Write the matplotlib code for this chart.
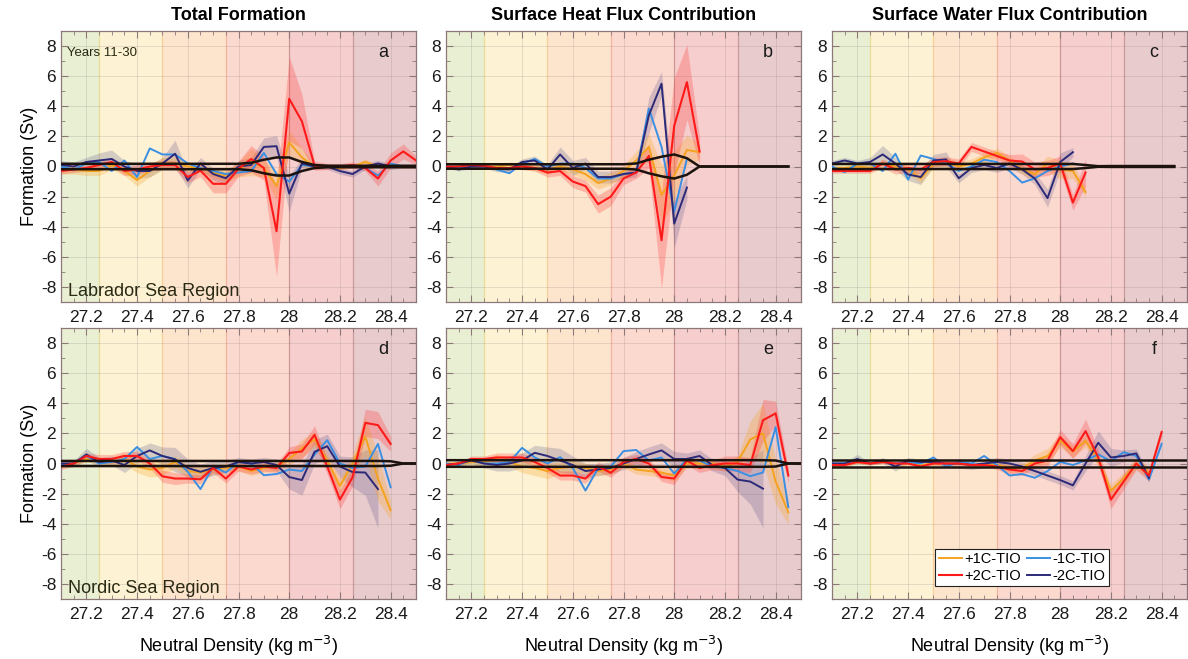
import numpy as np
import matplotlib
matplotlib.use("Agg")
import matplotlib.pyplot as plt
from matplotlib.ticker import MultipleLocator, FuncFormatter

plt.rcParams['font.family'] = ['Liberation Sans', 'DejaVu Sans']

nan = np.nan
density = np.round(np.arange(27.10, 28.501, 0.05), 2)

titles = ["Total Formation", "Surface Heat Flux Contribution", "Surface Water Flux Contribution"]
panel_letters = ["a", "b", "c", "d", "e", "f"]
region_names = ["Labrador Sea Region", "Nordic Sea Region"]
series_names = ["+1C-TIO", "-1C-TIO", "+2C-TIO", "-2C-TIO"]

# ---------------- Panel a ----------------
a_p1 = [-0.2,-0.2,-0.3,-0.3,0.1,-0.3,-0.9,-0.3,0.2,0.2,0.0,-0.1,-0.4,-0.6,-0.2,0.3,-0.1,-1.3,1.6,0.6,0.0,0.0,-0.1,0.0,0.3,0.0,0.0,0.0,0.0]
a_p1_s = [0.3,0.3,0.3,0.3,0.3,0.3,0.4,0.4,0.4,0.4,0.3,0.3,0.3,0.4,0.5,0.9,0.6,0.9,0.8,0.6,0.2,0.1,0.1,0.1,0.2,0.1,0.1,0.1,0.1]
a_p2 = [-0.3,-0.2,-0.1,0.1,0.3,-0.3,-0.2,0.0,0.1,0.1,-0.7,-0.27,-1.15,-1.15,-0.15,0.5,-0.1,-4.3,4.5,3.0,0.05,0.0,0.0,0.1,-0.1,-0.8,0.4,1.0,0.4]
a_p2_s = [0.2,0.2,0.2,0.2,0.3,0.3,0.3,0.3,0.3,0.3,0.4,0.4,0.6,0.6,0.5,0.9,0.8,3.0,2.8,1.8,0.3,0.2,0.2,0.2,0.2,0.5,0.5,0.5,0.3]
a_m1 = [0.0,-0.2,0.2,0.3,-0.3,0.4,-0.7,1.2,0.8,0.8,0.2,-0.1,-0.3,-0.5,-0.4,-0.3,0.9,-0.5,-1.0,0.1,0.0,0.0,0.0,0.0,-0.1,-0.6,0.2,0.0,0.0]
a_m2 = [0.1,0.0,0.3,0.4,0.5,0.0,-0.3,-0.3,0.2,0.85,-0.93,0.2,-0.5,-0.78,0.0,0.1,1.3,1.35,-1.8,0.2,0.0,0.0,-0.3,-0.5,0.0,0.2,0.0,0.0,0.0]
a_m2_s = [0.3,0.3,0.3,0.5,0.6,0.4,0.5,0.4,0.4,0.9,0.5,0.4,0.4,0.4,0.4,0.5,0.6,0.7,1.2,0.3,0.2,0.2,0.2,0.2,0.2,0.2,0.2,0.1,0.1]
a_env = [0.18]*15 + [0.25,0.45,0.6,0.6,0.3,0.1,0.05,0.05,0.05,0.05,0.05,0.05,0.05,0.05]

# ---------------- Panel b ----------------
b_p1 = [-0.1,0.0,0.0,0.0,0.0,0.1,0.0,-0.1,-0.2,0.0,-0.2,-0.5,-1.1,-0.8,-0.3,0.4,1.3,-1.9,-0.6,1.1,0.95,nan,nan,nan,nan,nan,nan,nan,nan]
b_p1_s = [0.1,0.1,0.1,0.1,0.1,0.2,0.2,0.2,0.3,0.3,0.3,0.4,0.4,0.4,0.4,0.6,0.9,2.0,1.6,1.0,0.5,nan,nan,nan,nan,nan,nan,nan,nan]
b_p2 = [0.0,0.0,0.1,0.05,-0.1,-0.1,0.0,-0.1,-0.4,-0.3,-1.0,-1.3,-2.5,-2.0,-0.8,-0.4,0.7,-4.9,2.7,5.6,1.0,nan,nan,nan,nan,nan,nan,nan,nan]
b_p2_s = [0.1,0.1,0.1,0.1,0.1,0.1,0.2,0.2,0.3,0.3,0.4,0.4,0.6,0.6,0.4,0.4,0.8,3.2,3.2,2.5,0.9,nan,nan,nan,nan,nan,nan,nan,nan]
b_m1 = [0.0,-0.1,0.0,0.0,-0.2,-0.45,0.2,0.5,0.0,0.2,0.2,-0.1,-0.8,-0.8,-0.5,-0.4,3.85,1.3,-3.0,0.5,nan,nan,nan,nan,nan,nan,nan,nan,nan]
b_m2 = [0.0,-0.2,0.0,0.0,-0.15,-0.2,0.3,0.4,-0.2,0.8,-0.1,0.2,-0.7,-0.7,-0.5,-0.4,3.4,5.5,-3.8,-1.4,nan,nan,nan,nan,nan,nan,nan,nan,nan]
b_m2_s = [0.1,0.1,0.1,0.1,0.2,0.2,0.2,0.3,0.3,0.5,0.5,0.4,0.4,0.4,0.3,0.3,1.2,0.8,1.6,0.8,nan,nan,nan,nan,nan,nan,nan,nan,nan]
b_env = [0.15]*15 + [0.2,0.45,0.65,0.8,0.55,0.0,0.0,0.0,0.0,0.0,0.0,0.0,0.0,nan]

# ---------------- Panel c ----------------
c_p1 = [-0.1,-0.1,0.0,-0.1,0.2,0.0,-0.2,-0.8,0.2,0.3,0.0,0.2,0.6,0.9,0.4,-0.2,-0.5,0.2,-0.2,-0.3,-1.7,nan,nan,nan,nan,nan,nan,nan,nan]
c_p1_s = [0.2,0.2,0.2,0.2,0.2,0.2,0.3,0.3,0.3,0.3,0.3,0.3,0.3,0.3,0.3,0.3,0.4,0.5,0.6,0.5,0.3,nan,nan,nan,nan,nan,nan,nan,nan]
c_p2 = [-0.3,-0.3,-0.3,-0.3,0.2,-0.2,-0.1,-0.2,0.3,0.35,0.2,1.3,1.0,0.7,0.4,0.33,-0.2,-0.1,0.2,-2.4,-0.4,nan,nan,nan,nan,nan,nan,nan,nan]
c_p2_s = [0.15,0.15,0.15,0.15,0.3,0.3,0.3,0.3,0.3,0.3,0.3,0.3,0.3,0.3,0.4,0.5,0.5,0.5,0.5,0.5,0.9,nan,nan,nan,nan,nan,nan,nan,nan]
c_m1 = [0.0,-0.38,0.2,0.2,-0.3,0.85,-0.87,0.73,0.5,0.2,-0.3,0.0,0.45,0.3,-0.3,-1.07,-0.78,-0.3,0.0,0.2,nan,nan,nan,nan,nan,nan,nan,nan,nan]
c_m2 = [0.2,0.4,0.2,0.3,0.8,0.2,-0.53,-0.7,0.4,0.47,-0.78,-0.1,0.1,-0.1,0.2,-0.2,-0.8,-2.1,0.3,0.95,nan,nan,nan,nan,nan,nan,nan,nan,nan]
c_m2_s = [0.2,0.2,0.2,0.3,0.6,0.4,0.4,0.5,0.4,0.5,0.3,0.3,0.3,0.3,0.3,0.3,0.4,0.6,0.6,0.3,nan,nan,nan,nan,nan,nan,nan,nan,nan]
c_env = [0.17]*20 + [0.1,0.02,0.03,0.03,0.03,0.03,0.03,0.03,nan]

# ---------------- Panel d ----------------
d_p1 = [-0.1,0.0,0.3,0.2,0.1,0.3,-0.2,-0.4,-0.3,0.1,-0.5,-0.6,-0.4,-0.3,-0.2,-0.5,-0.3,-0.2,0.3,1.0,1.6,0.2,-1.5,0.0,1.8,-1.0,-3.1,nan,nan]
d_p1_s = [0.2,0.2,0.2,0.2,0.3,0.4,0.4,0.5,0.5,0.4,0.4,0.4,0.3,0.3,0.3,0.3,0.3,0.3,0.4,0.6,0.5,0.5,0.5,0.6,1.3,1.5,0.6,nan,nan]
d_p2 = [-0.2,0.0,0.5,0.3,0.3,0.5,0.5,0.0,-0.85,-1.0,-1.0,-1.05,-0.3,-1.0,-0.2,-0.4,-0.2,-0.3,0.7,0.8,1.9,-0.2,-2.4,-0.9,2.7,2.55,1.3,nan,nan]
d_p2_s = [0.2,0.2,0.2,0.3,0.3,0.3,0.3,0.3,0.4,0.4,0.3,0.3,0.3,0.3,0.3,0.3,0.3,0.3,0.4,0.5,0.6,0.5,0.6,0.6,0.9,0.9,0.5,nan,nan]
d_m1 = [-0.1,0.0,0.5,0.0,0.1,0.3,1.1,0.3,0.5,0.3,-0.55,-1.7,-0.2,-0.6,0.1,0.0,-0.78,-0.7,-0.4,-0.5,0.6,1.55,0.0,-0.3,-0.2,1.3,-1.58,nan,nan]
d_m2 = [0.0,0.0,0.6,0.1,0.2,-0.1,0.5,0.87,0.5,0.27,-0.3,-0.55,-0.3,-0.2,0.1,0.0,0.1,-0.1,-0.9,-1.1,0.78,1.15,-0.2,-0.57,-0.6,-1.7,nan,nan,nan]
d_m2_s = [0.2,0.2,0.4,0.3,0.3,0.5,0.5,0.5,0.6,0.8,0.6,0.5,0.5,0.4,0.3,0.3,0.3,0.4,0.8,1.0,0.8,0.8,0.7,1.0,1.5,2.6,nan,nan,nan]
d_env = [0.17]*26 + [0.15,0.0,0.0]

# ---------------- Panel e ----------------
e_p1 = [0.0,0.0,0.1,0.1,0.3,0.1,-0.2,-0.3,-0.5,-0.3,-0.2,-0.3,-0.5,-0.4,0.0,-0.4,-0.5,-0.6,-0.8,0.0,0.0,0.0,-0.2,0.1,1.6,2.0,-1.2,-3.24,nan]
e_p1_s = [0.1,0.1,0.2,0.2,0.3,0.3,0.4,0.5,0.5,0.4,0.4,0.3,0.3,0.3,0.3,0.3,0.3,0.3,0.4,0.3,0.3,0.3,0.3,0.4,1.2,2.0,1.5,0.8,nan]
e_p2 = [-0.1,0.0,0.3,0.3,0.4,0.4,0.4,0.1,-0.3,-0.8,-0.8,-1.0,-0.2,-0.62,0.1,0.3,0.0,-0.9,-1.0,0.2,-0.3,-0.1,0.0,0.0,-0.1,2.87,3.33,-0.8,nan]
e_p2_s = [0.1,0.1,0.2,0.2,0.3,0.3,0.3,0.3,0.3,0.3,0.3,0.3,0.3,0.3,0.3,0.3,0.3,0.3,0.4,0.3,0.3,0.3,0.5,0.5,0.5,1.4,0.8,0.5,nan]
e_m1 = [0.0,-0.1,0.3,0.0,0.0,0.1,1.04,0.4,0.0,0.42,-0.3,-1.8,-0.3,-0.2,0.82,0.9,0.2,0.4,-0.67,0.3,0.2,-0.2,-0.3,-0.5,-0.84,-0.6,2.42,-2.9,nan]
e_m2 = [-0.1,0.0,0.2,0.0,-0.1,0.0,0.2,0.71,0.5,0.2,-0.1,-0.5,-0.4,-0.3,0.0,0.3,0.6,0.87,0.3,0.3,0.5,-0.1,-0.3,-1.07,-1.2,-1.67,nan,nan,nan]
e_m2_s = [0.1,0.2,0.2,0.3,0.4,0.5,0.5,0.5,0.6,0.8,0.6,0.5,0.4,0.4,0.4,0.5,0.5,0.5,0.5,0.4,0.4,0.4,0.5,0.8,1.5,2.6,nan,nan,nan]
e_env = [0.22]*26 + [0.2,0.0,0.0]

# ---------------- Panel f ----------------
f_p1 = [-0.1,-0.1,0.1,0.0,0.1,0.0,0.0,-0.1,0.0,0.0,0.0,-0.1,-0.1,-0.1,-0.3,-0.3,0.2,0.5,1.5,0.8,1.5,0.2,-1.8,-1.0,0.0,-0.6,nan,nan,nan]
f_p1_s = [0.1,0.1,0.1,0.1,0.1,0.1,0.1,0.1,0.1,0.1,0.1,0.1,0.1,0.2,0.3,0.3,0.4,0.5,0.4,0.4,0.4,0.4,0.4,0.4,0.4,0.4,nan,nan,nan]
f_p2 = [-0.1,-0.1,0.1,0.0,0.1,0.0,0.0,-0.2,0.0,0.0,0.0,-0.1,-0.1,-0.2,-0.4,-0.5,0.0,0.2,1.75,0.82,2.15,0.4,-2.4,-1.2,0.0,-0.8,2.09,nan,nan]
f_p2_s = [0.1,0.1,0.1,0.1,0.1,0.1,0.1,0.1,0.1,0.1,0.1,0.1,0.1,0.2,0.3,0.3,0.3,0.4,0.5,0.5,0.8,0.5,0.6,0.5,0.4,0.4,0.3,nan,nan]
f_m1 = [0.0,0.0,0.2,0.0,0.1,0.0,0.1,0.0,0.4,-0.2,0.1,0.0,0.5,-0.1,-0.8,-0.7,-0.95,-0.5,0.1,-0.1,0.2,0.6,0.15,0.75,0.5,-1.07,1.3,nan,nan]
f_m2 = [0.0,0.0,0.3,0.0,0.2,-0.2,0.2,0.1,0.1,0.0,0.0,-0.1,0.0,0.1,0.0,-0.2,-0.5,-0.8,-1.1,-1.45,0.0,1.38,0.4,0.5,0.67,-0.95,nan,nan,nan]
f_m2_s = [0.1,0.1,0.3,0.1,0.2,0.3,0.2,0.2,0.2,0.2,0.3,0.3,0.3,0.3,0.3,0.3,0.3,0.3,0.3,0.3,0.5,0.8,0.6,0.4,0.3,0.3,nan,nan,nan]
f_env = [0.2]*29

panels = [
    (a_p1, a_p1_s, a_m1, a_p2, a_p2_s, a_m2, a_m2_s, a_env),
    (b_p1, b_p1_s, b_m1, b_p2, b_p2_s, b_m2, b_m2_s, b_env),
    (c_p1, c_p1_s, c_m1, c_p2, c_p2_s, c_m2, c_m2_s, c_env),
    (d_p1, d_p1_s, d_m1, d_p2, d_p2_s, d_m2, d_m2_s, d_env),
    (e_p1, e_p1_s, e_m1, e_p2, e_p2_s, e_m2, e_m2_s, e_env),
    (f_p1, f_p1_s, f_m1, f_p2, f_p2_s, f_m2, f_m2_s, f_env),
]

# background density classes
band_edges = [27.10, 27.25, 27.50, 27.75, 28.00, 28.25, 28.50]
band_colors = ['#E9EFD3', '#FDF3D4', '#FDE5CD', '#FCD9CF', '#F5CECD', '#E8CBCC']
edge_colors = ['#E8DC9A', '#F6CE98', '#F3B49E', '#DA9C9A', '#C99A9C']

c_p1c, c_m1c, c_p2c, c_m2c = '#F5A21E', '#3A8FE3', '#FF1A1A', '#2C2A78'

W, H = 1188, 659
fig = plt.figure(figsize=(W/100, H/100), dpi=100)
lefts = [61, 446, 832]
tops = [31, 328]
aw, ah = 355, 271

x = density
spine_col = '#8C7878'

for k in range(6):
    r, c = divmod(k, 3)
    ax = fig.add_axes([lefts[c]/W, 1 - (tops[r] + ah)/H, aw/W, ah/H])
    p1, p1s, m1, p2, p2s, m2, m2s, env = [np.array(v, dtype=float) for v in panels[k]]

    for i in range(6):
        ax.axvspan(band_edges[i], band_edges[i+1], color=band_colors[i], lw=0, zorder=0)
    for i in range(5):
        ax.axvline(band_edges[i+1], color=edge_colors[i], lw=0.9, zorder=0.5)

    ax.grid(True, which='major', color='#9a8a8a', alpha=0.25, lw=0.7, zorder=0.6)
    ax.set_axisbelow(True)

    ax.fill_between(x, m2 - m2s, m2 + m2s, color='#4a4580', alpha=0.22, lw=0, zorder=1)
    ax.fill_between(x, p1 - p1s, p1 + p1s, color='#F8A830', alpha=0.30, lw=0, zorder=1.1)
    ax.fill_between(x, p2 - p2s, p2 + p2s, color='#FF3B3B', alpha=0.28, lw=0, zorder=1.2)

    l1, = ax.plot(x, p1, color=c_p1c, lw=1.4, zorder=3)
    l2, = ax.plot(x, m1, color=c_m1c, lw=1.4, zorder=3.1)
    l4, = ax.plot(x, m2, color=c_m2c, lw=1.4, zorder=3.2)
    l3, = ax.plot(x, p2, color=c_p2c, lw=1.5, zorder=3.3)

    ax.plot(x, env, color='#1c130e', lw=1.8, zorder=4)
    ax.plot(x, -env, color='#1c130e', lw=1.8, zorder=4)

    ax.set_xlim(27.1, 28.5)
    ax.set_ylim(-9, 9)
    ax.xaxis.set_major_locator(MultipleLocator(0.2))
    ax.xaxis.set_minor_locator(MultipleLocator(0.05))
    ax.yaxis.set_major_locator(MultipleLocator(2))
    ax.yaxis.set_minor_locator(MultipleLocator(1))
    ax.xaxis.set_major_formatter(FuncFormatter(lambda v, p: ('%g' % round(v, 2)) if 27.15 < v < 28.45 else ''))
    ax.yaxis.set_major_formatter(FuncFormatter(lambda v, p: '%g' % v if abs(v) < 8.5 else ''))
    ax.tick_params(which='both', direction='in', top=True, right=True, colors=spine_col,
                   labelcolor='#1a1a1a', labelsize=12.5)
    ax.tick_params(which='major', length=5, width=0.8)
    ax.tick_params(which='minor', length=3, width=0.6)
    ax.tick_params(axis='x', pad=6)
    for s in ax.spines.values():
        s.set_color(spine_col)
        s.set_linewidth(0.9)

    ax.text(28.37, 7.6, panel_letters[k], fontsize=13, color='#1a1a1a', ha='center', va='center', zorder=5)

    if r == 0:
        ax.set_title(titles[c], fontsize=13, fontweight='bold', pad=8)
    else:
        ax.set_xlabel('Neutral Density (kg m$^{-3}$)', fontsize=13, labelpad=8)
    if c == 0:
        ax.set_ylabel('Formation (Sv)', fontsize=13, labelpad=2)
        ax.text(27.128, -8.3, region_names[r], fontsize=13, color='#2a2a14', ha='left', va='center', zorder=5)
    if k == 0:
        ax.text(27.125, 7.55, 'Years 11-30', fontsize=9.5, color='#2a2a14', ha='left', va='center', zorder=5)
    if k == 5:
        # column-wise fill: first column +1C/+2C, second column -1C/-2C
        leg = ax.legend([l1, l3, l2, l4],
                        [series_names[0], series_names[2], series_names[1], series_names[3]],
                        ncol=2, loc='lower left',
                        bbox_to_anchor=(0.27, 0.02), fontsize=10.5, handlelength=1.6,
                        handletextpad=0.15, columnspacing=0.4, borderpad=0.25,
                        labelspacing=0.15, fancybox=False, framealpha=1)
        leg.get_frame().set_edgecolor('#222222')
        leg.get_frame().set_linewidth(0.8)
        leg.set_zorder(10)

fig.savefig('out.png', dpi=100)
